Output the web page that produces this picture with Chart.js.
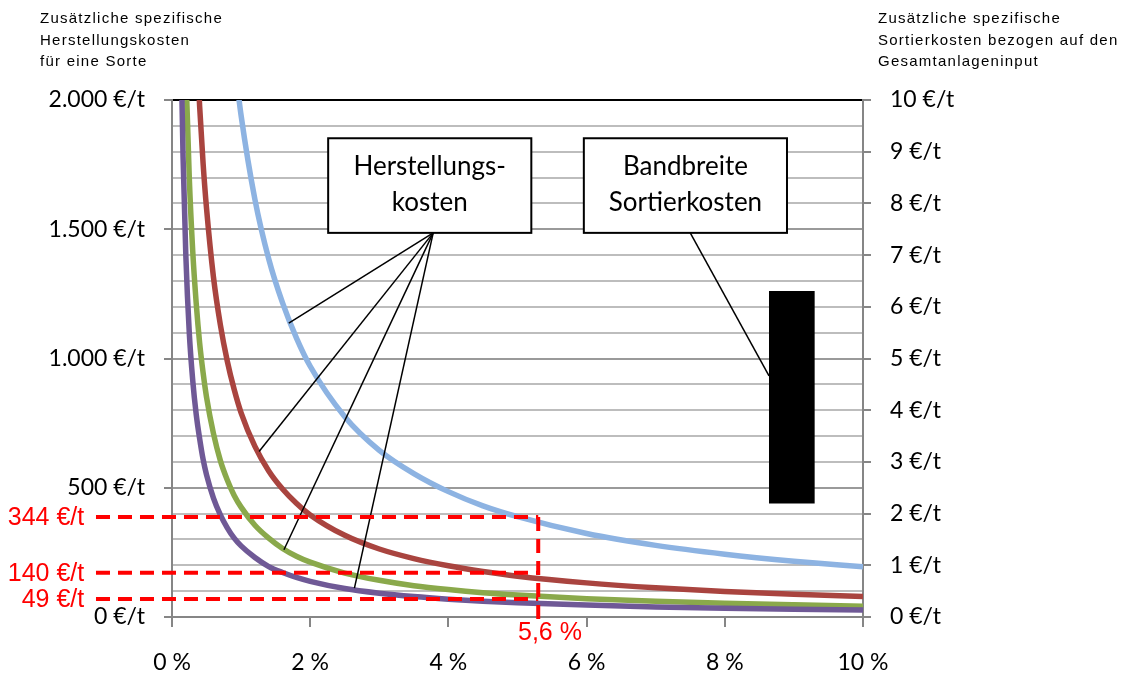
<!DOCTYPE html>
<html>
<head>
<meta charset="utf-8">
<script src="https://cdn.jsdelivr.net/npm/chart.js@4.4.1/dist/chart.umd.min.js"></script>
<style>
  html, body { margin: 0; padding: 0; background: #fff; }
  #wrap { position: relative; width: 1123px; height: 675px; }
  .axis-title {
    position: absolute;
    top: 7px;
    font: 15px "Liberation Sans", Arial, sans-serif;
    letter-spacing: 1.25px;
    line-height: 21.7px;
    color: #000;
    white-space: nowrap;
  }
</style>
</head>
<body>
<div id="wrap">
  <canvas id="costChart" width="1123" height="675"></canvas>
  <div class="axis-title" style="left:40px">Zusätzliche spezifische<br>Herstellungskosten<br>für eine Sorte</div>
  <div class="axis-title" style="left:878px">Zusätzliche spezifische<br>Sortierkosten bezogen auf den<br>Gesamtanlageninput</div>
</div>
<script>
// share of one grade in the plant input (%)
const shares = [0.12, 0.14, 0.16, 0.2, 0.25, 0.3, 0.35, 0.4, 0.45, 0.5, 0.6, 0.7, 0.8, 0.9, 1,
  1.2, 1.4, 1.6, 1.8, 2, 2.5, 3, 3.5, 4, 4.5, 5, 6, 7, 8, 9, 10];

// additional production cost per grade (€/t)
const costPurple = [2400, 2060, 1780, 1400, 1100, 915, 785, 690, 610, 550, 460, 395, 345, 305, 275,
  230, 195, 172, 153, 138, 110, 92, 79, 69, 61, 55, 46, 39, 34, 30, 27];
const costGreen = [null, null, null, 2125, 1700, 1415, 1215, 1060, 945, 850, 710, 605, 530, 470, 425,
  355, 305, 265, 235, 212, 170, 142, 121, 106, 94, 85, 71, 61, 53, 47, 42];
const costRed = [null, null, null, null, null, null, 2255, 1975, 1755, 1580, 1315, 1130, 990, 880, 790,
  660, 565, 495, 440, 395, 316, 263, 226, 198, 176, 158, 132, 113, 99, 88, 79];
const costBlue = [null, null, null, null, null, null, null, null, null, null, null, null, null, 2155, 1940,
  1615, 1385, 1215, 1080, 970, 775, 645, 555, 485, 430, 388, 323, 277, 243, 216, 194];

// range of sorting cost (€/t, right axis)
const sortShare = 8.97;
const sortRange = [2.2, 6.3];

// tick labels
const costTicks = ['0 €/t', '500 €/t', '1.000 €/t', '1.500 €/t', '2.000 €/t'];
const sortTicks = ['0 €/t', '1 €/t', '2 €/t', '3 €/t', '4 €/t', '5 €/t', '6 €/t', '7 €/t', '8 €/t', '9 €/t', '10 €/t'];
const shareTicks = ['0 %', '2 %', '4 %', '6 %', '8 %', '10 %'];

// red marker lines
const markLabels = ['344 €/t', '140 €/t', '49 €/t'];
const markLevels = [387, 171, 70];
const markShare = 5.3;
const markShareLabel = '5,6 %';

const toPoints = (vals) => shares.map((s, i) => ({ x: s, y: vals[i] }));

const FONT = 'Lato, "Open Sans", sans-serif';
const AXIS_GREY = '#868686';

const notesPlugin = {
  id: 'notes',
  afterDatasetsDraw(chart) {
    const { ctx } = chart;
    const px = (v) => chart.scales.x.getPixelForValue(v);
    const py = (v) => chart.scales.y.getPixelForValue(v);
    ctx.save();

    // pointer lines
    ctx.strokeStyle = '#000';
    ctx.lineWidth = 1.5;
    const pointers = [
      [3.78, 1486, 1.69, 1137],
      [3.78, 1486, 1.26, 640],
      [3.78, 1486, 1.62, 260],
      [3.78, 1486, 2.64, 112],
      [7.5, 1486, 8.64, 933],
    ];
    pointers.forEach((p) => {
      ctx.beginPath();
      ctx.moveTo(px(p[0]), py(p[1]));
      ctx.lineTo(px(p[2]), py(p[3]));
      ctx.stroke();
    });

    // callout boxes
    const boxes = [
      { lines: ['Herstellungs-', 'kosten'], x0: 2.26, x1: 5.2 },
      { lines: ['Bandbreite', 'Sortierkosten'], x0: 5.96, x1: 8.9 },
    ];
    boxes.forEach((b) => {
      const l = px(b.x0), r = px(b.x1), t = py(1852), btm = py(1486);
      ctx.fillStyle = '#fff';
      ctx.fillRect(l, t, r - l, btm - t);
      ctx.lineWidth = 2;
      ctx.strokeStyle = '#000';
      ctx.strokeRect(l, t, r - l, btm - t);
      ctx.fillStyle = '#000';
      ctx.font = '26px ' + FONT;
      ctx.textAlign = 'center';
      ctx.textBaseline = 'middle';
      const cx = (l + r) / 2, cy = (t + btm) / 2;
      ctx.fillText(b.lines[0], cx, cy - 19);
      ctx.fillText(b.lines[1], cx, cy + 17);
    });

    // red dashed markers
    ctx.strokeStyle = '#ff0000';
    ctx.fillStyle = '#ff0000';
    ctx.lineWidth = 4;
    ctx.setLineDash([14, 8]);
    ctx.font = '25px "Liberation Sans", Arial, sans-serif';
    ctx.textAlign = 'right';
    ctx.textBaseline = 'middle';
    markLevels.forEach((lv, i) => {
      ctx.beginPath();
      ctx.moveTo(px(-1.1), py(lv));
      ctx.lineTo(px(markShare), py(lv));
      ctx.stroke();
      ctx.fillText(markLabels[i], px(-1.27), py(lv) + 1);
    });
    ctx.beginPath();
    ctx.moveTo(px(markShare), py(markLevels[0]));
    ctx.lineTo(px(markShare), py(-30));
    ctx.stroke();
    ctx.setLineDash([]);
    ctx.textAlign = 'center';
    ctx.fillText(markShareLabel, px(5.47), py(-63));

    ctx.restore();
  },
};

const lineSet = (vals, color) => ({
  type: 'line',
  data: toPoints(vals),
  borderColor: color,
  borderWidth: 5.5,
  pointRadius: 0,
  fill: false,
  cubicInterpolationMode: 'monotone',
  spanGaps: false,
  yAxisID: 'y',
});

new Chart(document.getElementById('costChart'), {
  type: 'line',
  data: {
    datasets: [
      lineSet(costPurple, '#6f5996'),
      lineSet(costGreen, '#8aa94b'),
      lineSet(costRed, '#a9443f'),
      lineSet(costBlue, '#8db3e2'),
      {
        type: 'bar',
        data: [{ x: sortShare, y: sortRange }],
        backgroundColor: '#000',
        borderWidth: 0,
        barThickness: 45,
        yAxisID: 'y2',
      },
    ],
  },
  options: {
    responsive: false,
    animation: false,
    layout: { padding: { top: 100, left: 0, right: 0, bottom: 0 } },
    plugins: {
      legend: { display: false },
      tooltip: { enabled: false },
    },
    scales: {
      x: {
        type: 'linear',
        min: 0,
        max: 10,
        offset: false,
        afterFit: (s) => { s.height = 58; },
        ticks: {
          stepSize: 2,
          padding: 22,
          color: '#000',
          font: { family: FONT, size: 23 },
          callback: (v) => shareTicks[Math.round(v / 2)],
        },
        grid: { offset: false, drawOnChartArea: false, tickLength: 10, color: AXIS_GREY, lineWidth: 2 },
        border: { color: AXIS_GREY, width: 2 },
      },
      y: {
        position: 'left',
        min: 0,
        max: 2000,
        afterFit: (s) => { s.width = 172; },
        ticks: {
          stepSize: 100,
          autoSkip: false,
          padding: 19,
          color: '#000',
          font: { family: FONT, size: 23 },
          callback: (v) => (v % 500 === 0 ? costTicks[v / 500] : ''),
        },
        grid: {
          lineWidth: 2,
          tickLength: 8,
          color: (c) => {
            const v = c.tick ? c.tick.value : 0;
            if (v === 2000) return '#000';
            return v % 500 === 0 ? '#9a9a9a' : '#bdbdbd';
          },
          tickColor: (c) => (c.tick && c.tick.value % 500 === 0 ? AXIS_GREY : 'rgba(0,0,0,0)'),
        },
        border: { color: AXIS_GREY, width: 2 },
      },
      y2: {
        position: 'right',
        min: 0,
        max: 10,
        afterFit: (s) => { s.width = 260; },
        ticks: {
          stepSize: 1,
          padding: 19,
          color: '#000',
          font: { family: FONT, size: 23 },
          callback: (v) => sortTicks[v],
        },
        grid: { drawOnChartArea: false, tickLength: 8, color: AXIS_GREY, lineWidth: 2 },
        border: { color: AXIS_GREY, width: 2 },
      },
    },
  },
  plugins: [notesPlugin],
});
</script>
</body>
</html>
